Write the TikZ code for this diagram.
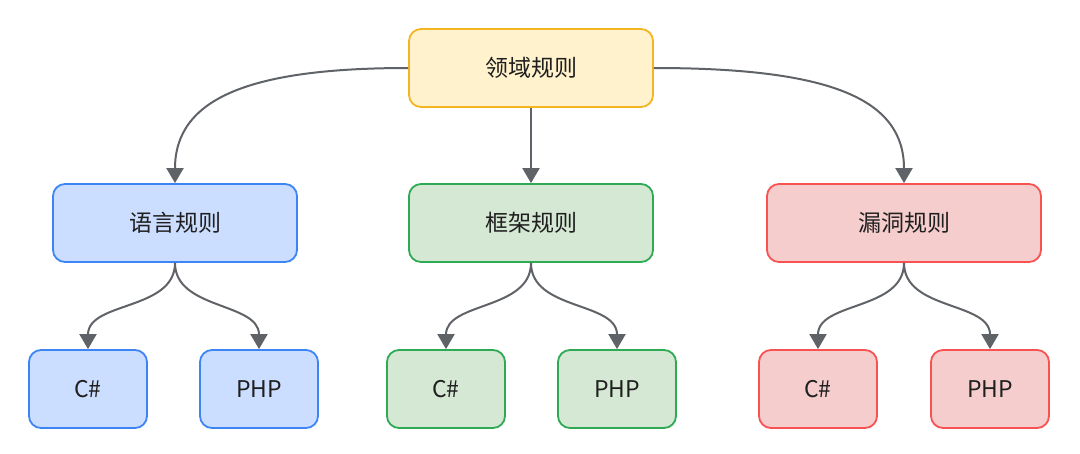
\documentclass[tikz,border=0pt]{standalone}
\usepackage{fontspec}
\setmainfont{Noto Sans CJK SC}
\usetikzlibrary{arrows.meta}

\definecolor{txtgray}{HTML}{1F1F1F}
\definecolor{linegray}{HTML}{5F6368}
\definecolor{yelfill}{HTML}{FFF2CC}
\definecolor{yeldraw}{HTML}{F5B422}
\definecolor{bluefill}{HTML}{CCDEFF}
\definecolor{bluedraw}{HTML}{3D85F5}
\definecolor{greenfill}{HTML}{D5E8D4}
\definecolor{greendraw}{HTML}{2EAA55}
\definecolor{redfill}{HTML}{F5CDCD}
\definecolor{reddraw}{HTML}{F85252}

\begin{document}
\begin{tikzpicture}
  [x=1pt,y=1pt,
   every node/.style={rounded corners=12pt,line width=1.8pt,inner sep=0pt,
     minimum height=78pt,text=txtgray,font=\fontsize{23}{27}\selectfont},
   ancho/.style={minimum width=244pt},
   hoja/.style={minimum width=118pt},
   amarillo/.style={fill=yelfill,draw=yeldraw},
   azul/.style={fill=bluefill,draw=bluedraw},
   verde/.style={fill=greenfill,draw=greendraw},
   rojo/.style={fill=redfill,draw=reddraw},
   flecha/.style={draw=linegray,line width=2pt,-{Triangle[width=17pt,length=15pt]}}]
  \useasboundingbox (0,0) rectangle (1080,-453);

  % Nodo raiz
  \node[ancho,amarillo] (reg) at (531,-68) {领域规则};

  % Segundo nivel
  \node[ancho,azul] (leng) at (175,-223) {语言规则};
  \node[ancho,verde] (marc) at (531,-223) {框架规则};
  \node[ancho,rojo,minimum width=274pt] (vuln) at (904,-223) {漏洞规则};

  % Hojas
  \node[hoja,azul] (lc) at (88,-389) {C\#};
  \node[hoja,azul] (lp) at (259,-389) {PHP};
  \node[hoja,verde] (mc) at (446,-389) {C\#};
  \node[hoja,verde] (mp) at (617,-389) {PHP};
  \node[hoja,rojo] (vc) at (818,-389) {C\#};
  \node[hoja,rojo] (vp) at (990,-389) {PHP};

  % Flechas desde la raiz
  \draw[flecha] (reg.west) .. controls +(-158,0) and +(0,85) .. (leng.north);
  \draw[flecha] (reg.south) -- (marc.north);
  \draw[flecha] (reg.east) .. controls +(175,0) and +(0,85) .. (vuln.north);

  % Flechas hacia las hojas
  \draw[flecha] (leng.south) to[out=-90,in=90] (lc.north);
  \draw[flecha] (leng.south) to[out=-90,in=90] (lp.north);
  \draw[flecha] (marc.south) to[out=-90,in=90] (mc.north);
  \draw[flecha] (marc.south) to[out=-90,in=90] (mp.north);
  \draw[flecha] (vuln.south) to[out=-90,in=90] (vc.north);
  \draw[flecha] (vuln.south) to[out=-90,in=90] (vp.north);
\end{tikzpicture}
\end{document}
